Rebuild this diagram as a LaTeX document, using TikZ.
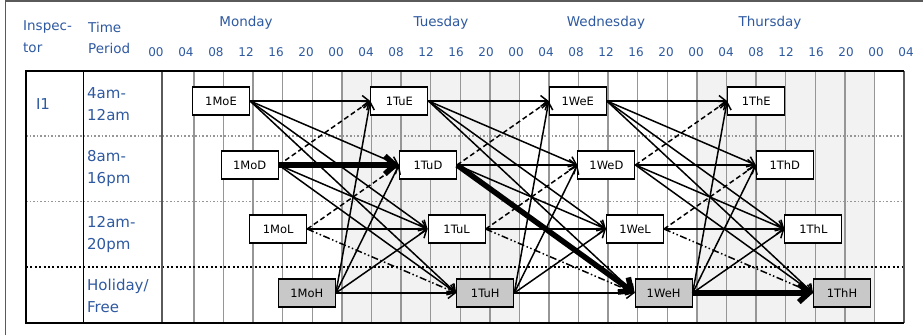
\documentclass[tikz,border=0pt]{standalone}
\usepackage{fontspec}
\setmainfont{DejaVu Sans}
\usetikzlibrary{arrows.meta}
\definecolor{hdrblue}{RGB}{46,89,160}
\definecolor{gridgray}{RGB}{150,150,150}
\definecolor{dayshade}{RGB}{242,242,242}
\definecolor{hfill}{RGB}{200,200,200}
\definecolor{framegray}{RGB}{90,90,90}
\begin{document}
\begin{tikzpicture}[x=1pt,y=-1pt,
  box/.style={draw,line width=1.1pt,fill=white,minimum width=57pt,minimum height=28pt,inner sep=0pt,font=\fontsize{11.5}{13}\selectfont},
  hbox/.style={box,fill=hfill},
  hdr/.style={text=hdrblue,inner sep=0pt,font=\fontsize{13.5}{17}\selectfont},
  num/.style={text=hdrblue,inner sep=0pt,font=\fontsize{12}{14}\selectfont},
  rowlab/.style={text=hdrblue,inner sep=0pt,font=\fontsize{15}{22}\selectfont,align=left,anchor=west},
  edge/.style={line width=1.5pt,-{Straight Barb[length=7pt,width=11pt]}},
  boldedge/.style={line width=5.5pt,-{Straight Barb[length=10pt,width=18pt]}},
  dashedge/.style={edge,dash pattern=on 5pt off 3pt},
  ddedge/.style={edge,dash pattern=on 7pt off 2.5pt on 1.5pt off 2.5pt on 1.5pt off 2.5pt},
  gridline/.style={gridgray,line width=1.4pt},
  graydots/.style={gridgray,line width=1.6pt,dash pattern=on 1.6pt off 2pt},
  blackdots/.style={black,line width=2pt,dash pattern=on 2pt off 2.4pt}
]
\useasboundingbox (0,0) rectangle (923,335);
% outer frame (cropped)
\draw[framegray,line width=1.5pt] (5.5,335) -- (5.5,0.75) -- (923,0.75);
% day shading
\fill[dayshade] (342,71) rectangle (520,323);
\fill[dayshade] (697,71) rectangle (875,323);
% grid lines
\foreach \k in {0,...,23} \draw[gridline] ({194+29.583*\k},71) -- ({194+29.583*\k},323);
% row separators
\draw[graydots] (26,136) -- (904,136);
\draw[graydots] (26,201.5) -- (904,201.5);
\draw[blackdots] (26,267) -- (904,267);
% table frame
\draw[line width=1pt] (83,71) -- (83,323);
\draw[framegray,line width=1.7pt] (162,71) -- (162,323);
\draw[framegray,line width=1.4pt] (904,71) -- (904,323);
\draw[line width=1.4pt] (904,71) -- (26,71) -- (26,323) -- (904,323);
% header
\node[hdr,anchor=west] (hInsp) at (23,27) {Inspec-};
\node[hdr,anchor=west] (hTor) at (23,48) {tor};
\node[hdr,anchor=west] (hTime) at (88,27) {Time};
\node[hdr,anchor=west] (hPer) at (88,48) {Period};
\node[hdr] (hMo) at (246,23) {Monday};
\node[hdr] (hTu) at (441,23) {Tuesday};
\node[hdr] (hWe) at (606,23) {Wednesday};
\node[hdr] (hTh) at (770,23) {Thursday};
\foreach \t [count=\i from 0] in {00,04,08,12,16,20,00,04,08,12,16,20,00,04,08,12,16,20,00,04,08,12,16,20,00,04}
  \node[num] (t\i) at ({156+30*\i},52) {\t};
% row labels
\node[text=hdrblue,inner sep=0pt,font=\fontsize{15}{22}\selectfont] (insp) at (43,104) {I1};
\node[rowlab] (r1) at (87,104) {4am-\\12am};
\node[rowlab] (r2) at (87,168.5) {8am-\\16pm};
\node[rowlab] (r3) at (87,234) {12am-\\20pm};
\node[rowlab] (r4) at (87,295.5) {Holiday/\\Free};
% shift nodes
\foreach \d/\n in {0/Mo,1/Tu,2/We,3/Th} {
  \node[box]  (\n E) at ({221+178.4*\d},101) {1\n E};
  \node[box]  (\n D) at ({221+178.4*\d+28.6},165) {1\n D};
  \node[box]  (\n L) at ({221+178.4*\d+57.2},229) {1\n L};
  \node[hbox] (\n H) at ({221+178.4*\d+85.8},293) {1\n H};
}
% common transitions
\foreach \a/\b in {Mo/Tu,Tu/We,We/Th} {
  \draw[edge] (\a E.east) -- (\b E.west);
  \draw[edge] (\a E.east) -- (\b D.west);
  \draw[edge] (\a E.east) -- (\b L.west);
  \draw[edge] (\a E.east) -- (\b H.west);
  \draw[dashedge] (\a D.east) -- (\b E.west);
  \draw[edge] (\a D.east) -- (\b L.west);
  \draw[dashedge] (\a L.east) -- (\b D.west);
  \draw[edge] (\a L.east) -- (\b L.west);
  \draw[ddedge] (\a L.east) -- (\b H.west);
  \draw[edge] (\a H.east) -- (\b E.west);
  \draw[edge] (\a H.east) -- (\b D.west);
  \draw[edge] (\a H.east) -- (\b L.west);
}
% remaining transitions
\draw[edge] (TuD.east) -- (WeD.west);
\draw[edge] (WeD.east) -- (ThD.west);
\draw[edge] (MoD.east) -- (TuH.west);
\draw[edge] (WeD.east) -- (ThH.west);
\draw[edge] (MoH.east) -- (TuH.west);
\draw[edge] (TuH.east) -- (WeH.west);
% selected path
\draw[boldedge] (MoD.east) -- (TuD.west);
\draw[boldedge] (TuD.east) -- (WeH.west);
\draw[boldedge] (WeH.east) -- (ThH.west);
\end{tikzpicture}
\end{document}
